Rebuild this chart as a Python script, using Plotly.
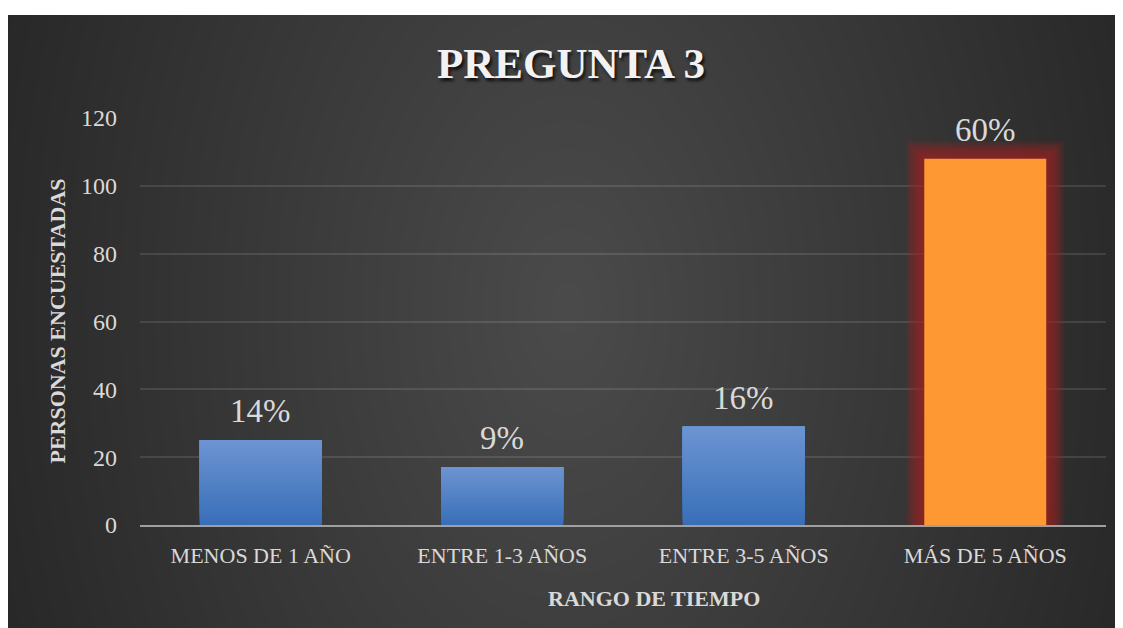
import plotly.graph_objects as go

# ---------------- data ----------------
categories = ["MENOS DE 1 AÑO", "ENTRE 1-3 AÑOS", "ENTRE 3-5 AÑOS", "MÁS DE 5 AÑOS"]
values = [25, 17, 29, 108]
highlight = [False, False, False, True]
y_ticks = [0, 20, 40, 60, 80, 100, 120]
title_text = "PREGUNTA 3"
x_title = "RANGO DE TIEMPO"
y_title = "PERSONAS ENCUESTADAS"

total = sum(values)
pct_labels = [f"{round(v / total * 100)}%" for v in values]

# ---------------- layout geometry (figure pixel coords) ----------------
W, H = 1123, 628
L, R, T, B = 132, 25, 110, 111
PW, PH = W - L - R, H - T - B
YMAX = 120
px_per_unit = PH / YMAX
cat_px = PW / len(categories)
bar_w = 0.505

FONT = "Liberation Serif, DejaVu Serif, serif"
TXT = "#d9d9d9"


def px2paper(x, y):
    return (x - L) / PW, (H - B - y) / PH


fig = go.Figure()

# ---------- glow for highlighted bar ----------
glow_steps = [18, 16, 14, 12, 10, 8, 6, 4, 2]
gx = [c for c, h in zip(categories, highlight) if h]
gv = [v for v, h in zip(values, highlight) if h]
for d in glow_steps:
    fig.add_trace(go.Bar(
        x=gx, y=[v + d / px_per_unit for v in gv],
        width=[bar_w + 2 * d / cat_px] * len(gx),
        marker=dict(color="rgba(160,36,36,0.14)", line=dict(width=0)),
        hoverinfo="skip", showlegend=False,
    ))

# ---------- gradient blue bars (layered slices, bottom to top) ----------
N = 40
top_c = (108, 148, 210)
bot_c = (57, 111, 184)
bx = [c for c, h in zip(categories, highlight) if not h]
bv = [v for v, h in zip(values, highlight) if not h]
for i in range(N):
    f = i / (N - 1)
    col = tuple(round(bot_c[k] + (top_c[k] - bot_c[k]) * f) for k in range(3))
    fig.add_trace(go.Bar(
        x=bx, y=[v * (1 - i / N) for v in bv], base=[v * i / N for v in bv],
        width=[bar_w] * len(bx),
        marker=dict(color="rgb(%d,%d,%d)" % col, line=dict(width=0)),
        hoverinfo="skip", showlegend=False,
    ))

# ---------- highlighted bar ----------
fig.add_trace(go.Bar(
    x=gx, y=gv, width=[bar_w] * len(gx),
    marker=dict(color="#fd9832", line=dict(width=0)),
    showlegend=False,
))

# ---------- background ----------
shapes = []
x0, y0 = px2paper(0, 7)
x1, y1 = px2paper(W + 5, H + 5)
shapes.append(dict(type="rect", xref="paper", yref="paper", x0=x0, y0=y1, x1=x1, y1=y0,
                   fillcolor="#262626", line=dict(width=0), layer="below"))
cx, cy = 560, 300
RX, RY = 620, 960
NL = 36
for k in range(NL):
    s = 1 - k / NL
    ax0, ay0 = px2paper(cx - RX * s, cy - RY * s)
    ax1, ay1 = px2paper(cx + RX * s, cy + RY * s)
    shapes.append(dict(type="circle", xref="paper", yref="paper",
                       x0=ax0, y0=ay1, x1=ax1, y1=ay0,
                       fillcolor="rgba(255,255,255,0.0088)", line=dict(width=0),
                       layer="below"))

annotations = []
# data labels
for c, v, t in zip(categories, values, pct_labels):
    annotations.append(dict(x=c, y=v, xref="x", yref="y", text=t, showarrow=False,
                            xanchor="center", yanchor="bottom", yshift=9,
                            font=dict(family=FONT, size=33, color=TXT)))
# axis titles
ax_, ay_ = px2paper(646, 590)
annotations.append(dict(x=ax_, y=ay_, xref="paper", yref="paper", text=x_title,
                        showarrow=False, xanchor="center", yanchor="middle",
                        font=dict(family=FONT, size=22, color=TXT, weight="bold")))
ax_, ay_ = px2paper(49, 313.5)
annotations.append(dict(x=ax_, y=ay_, xref="paper", yref="paper", text=y_title,
                        showarrow=False, textangle=-90, xanchor="center", yanchor="middle",
                        font=dict(family=FONT, size=22, color=TXT, weight="bold")))

fig.update_layout(
    width=W, height=H,
    margin=dict(l=L, r=R, t=T, b=B, pad=0),
    paper_bgcolor="white",
    plot_bgcolor="rgba(0,0,0,0)",
    barmode="overlay",
    showlegend=False,
    shapes=shapes,
    annotations=annotations,
    title=dict(
        text=title_text, x=563 / W, xanchor="center", y=1 - 55 / H, yanchor="middle",
        font=dict(family=FONT, size=43, color="#f2f2f2", weight="bold",
                  shadow="2px 3px 3px rgba(0,0,0,0.75)"),
    ),
    xaxis=dict(
        categoryorder="array", categoryarray=categories,
        showline=True, linecolor="#a0a0a0", linewidth=2,
        showgrid=False, zeroline=False, ticks="",
        tickfont=dict(family=FONT, size=22, color=TXT),
        ticklabelstandoff=10,
        fixedrange=True,
    ),
    yaxis=dict(
        range=[0, YMAX], tickvals=y_ticks,
        showgrid=True, gridcolor="rgba(255,255,255,0.11)", gridwidth=1.5,
        zeroline=False, showline=False, ticks="",
        tickfont=dict(family=FONT, size=24, color=TXT),
        ticklabelstandoff=22,
        fixedrange=True,
    ),
)

fig.write_html("out.html")
